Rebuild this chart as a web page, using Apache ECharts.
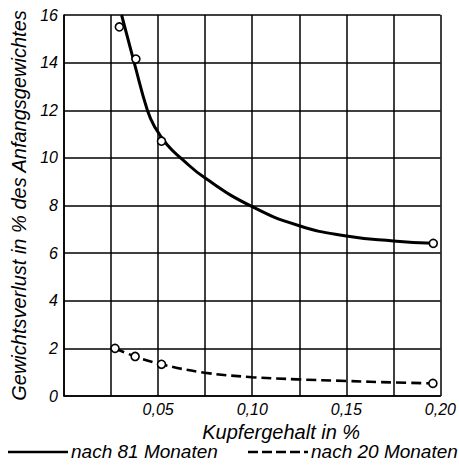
<!DOCTYPE html>
<html>
<head>
<meta charset="utf-8">
<script src="https://cdn.jsdelivr.net/npm/echarts@6/dist/echarts.min.js"></script>
<style>
  html, body { margin: 0; padding: 0; background: #fff; }
  #chart { width: 459px; height: 470px; }
</style>
</head>
<body>
<div id="chart"></div>
<script>
// curve drawn through the plot
var curve81 = [[0.0306, 16], [0.0373, 14], [0.0443, 12], [0.0482, 11.3], [0.0548, 10.55], [0.0627, 9.95],
  [0.075, 9.15], [0.10, 7.95], [0.125, 7.15], [0.15, 6.72], [0.175, 6.51], [0.196, 6.41]];
var curve20 = [[0.0271, 2.0], [0.0378, 1.66], [0.0518, 1.33], [0.0746, 0.98], [0.10, 0.79],
  [0.124, 0.70], [0.15, 0.63], [0.175, 0.57], [0.196, 0.53]];
// measured points (hollow circles)
var points81 = [[0.0294, 15.5], [0.0382, 14.15], [0.0518, 10.7], [0.1962, 6.41]];
var points20 = [[0.0271, 2.0], [0.0378, 1.66], [0.0518, 1.33], [0.196, 0.53]];
var xTicks = [0.05, 0.10, 0.15, 0.20];
var seriesNames = ['nach 81 Monaten', 'nach 20 Monaten'];

var font = '"Liberation Sans", Arial, sans-serif';
var ink = '#000';

var chart = echarts.init(document.getElementById('chart'), null, { renderer: 'svg' });

function pointSeries(data) {
  return {
    type: 'scatter',
    data: data,
    symbol: 'circle',
    symbolSize: 8,
    itemStyle: { color: '#fff', borderColor: ink, borderWidth: 1.6, opacity: 1 },
    z: 5
  };
}

chart.setOption({
  animation: false,
  backgroundColor: '#fff',
  grid: { left: 64, right: 14, top: 15, bottom: 74 },
  xAxis: {
    type: 'value', min: 0, max: 0.2, interval: 0.025,
    name: 'Kupfergehalt in %', nameLocation: 'middle', nameGap: 26,
    nameTextStyle: { color: ink, fontFamily: font, fontStyle: 'italic', fontSize: 20, padding: [0, 0, 0, 58] },
    axisLine: { lineStyle: { color: ink, width: 1.6 } },
    axisTick: { show: false },
    axisLabel: {
      color: ink, fontFamily: font, fontStyle: 'italic', fontSize: 16, margin: 5,
      formatter: function(v) {
        for (var i = 0; i < xTicks.length; i++) {
          if (Math.abs(v - xTicks[i]) < 1e-6) return xTicks[i].toFixed(2).replace('.', ',');
        }
        return '';
      }
    },
    splitLine: { lineStyle: { color: ink, width: 1.5 } }
  },
  yAxis: {
    type: 'value', min: 0, max: 16, interval: 2,
    name: 'Gewichtsverlust in % des Anfangsgewichtes', nameLocation: 'middle', nameGap: 22,
    nameTextStyle: { color: ink, fontFamily: font, fontStyle: 'italic', fontSize: 20 },
    axisLine: { show: true, lineStyle: { color: ink, width: 1.6 } },
    axisTick: { show: false },
    axisLabel: { color: ink, fontFamily: font, fontStyle: 'italic', fontSize: 16, margin: 6 },
    splitLine: { lineStyle: { color: ink, width: 1.5 } }
  },
  series: [
    {
      name: seriesNames[0], type: 'line', data: curve81, smooth: 0.5,
      showSymbol: false, lineStyle: { color: ink, width: 3 }, z: 4
    },
    {
      name: seriesNames[1], type: 'line', data: curve20, smooth: 0.4,
      showSymbol: false, lineStyle: { color: ink, width: 2.6, type: [10, 5] }, z: 4
    },
    pointSeries(points81),
    pointSeries(points20)
  ],
  graphic: [
    { type: 'line', shape: { x1: 8, y1: 452, x2: 68, y2: 452 }, style: { stroke: ink, lineWidth: 2.6 } },
    { type: 'text', left: 71, top: 442, style: { text: seriesNames[0], fill: ink, font: 'italic 19px ' + font } },
    { type: 'line', shape: { x1: 248, y1: 452, x2: 308, y2: 452 }, style: { stroke: ink, lineWidth: 2.6, lineDash: [10, 4] } },
    { type: 'text', left: 311, top: 442, style: { text: seriesNames[1], fill: ink, font: 'italic 19px ' + font } }
  ]
});
window.addEventListener('resize', function() { chart.resize(); });
</script>
</body>
</html>
